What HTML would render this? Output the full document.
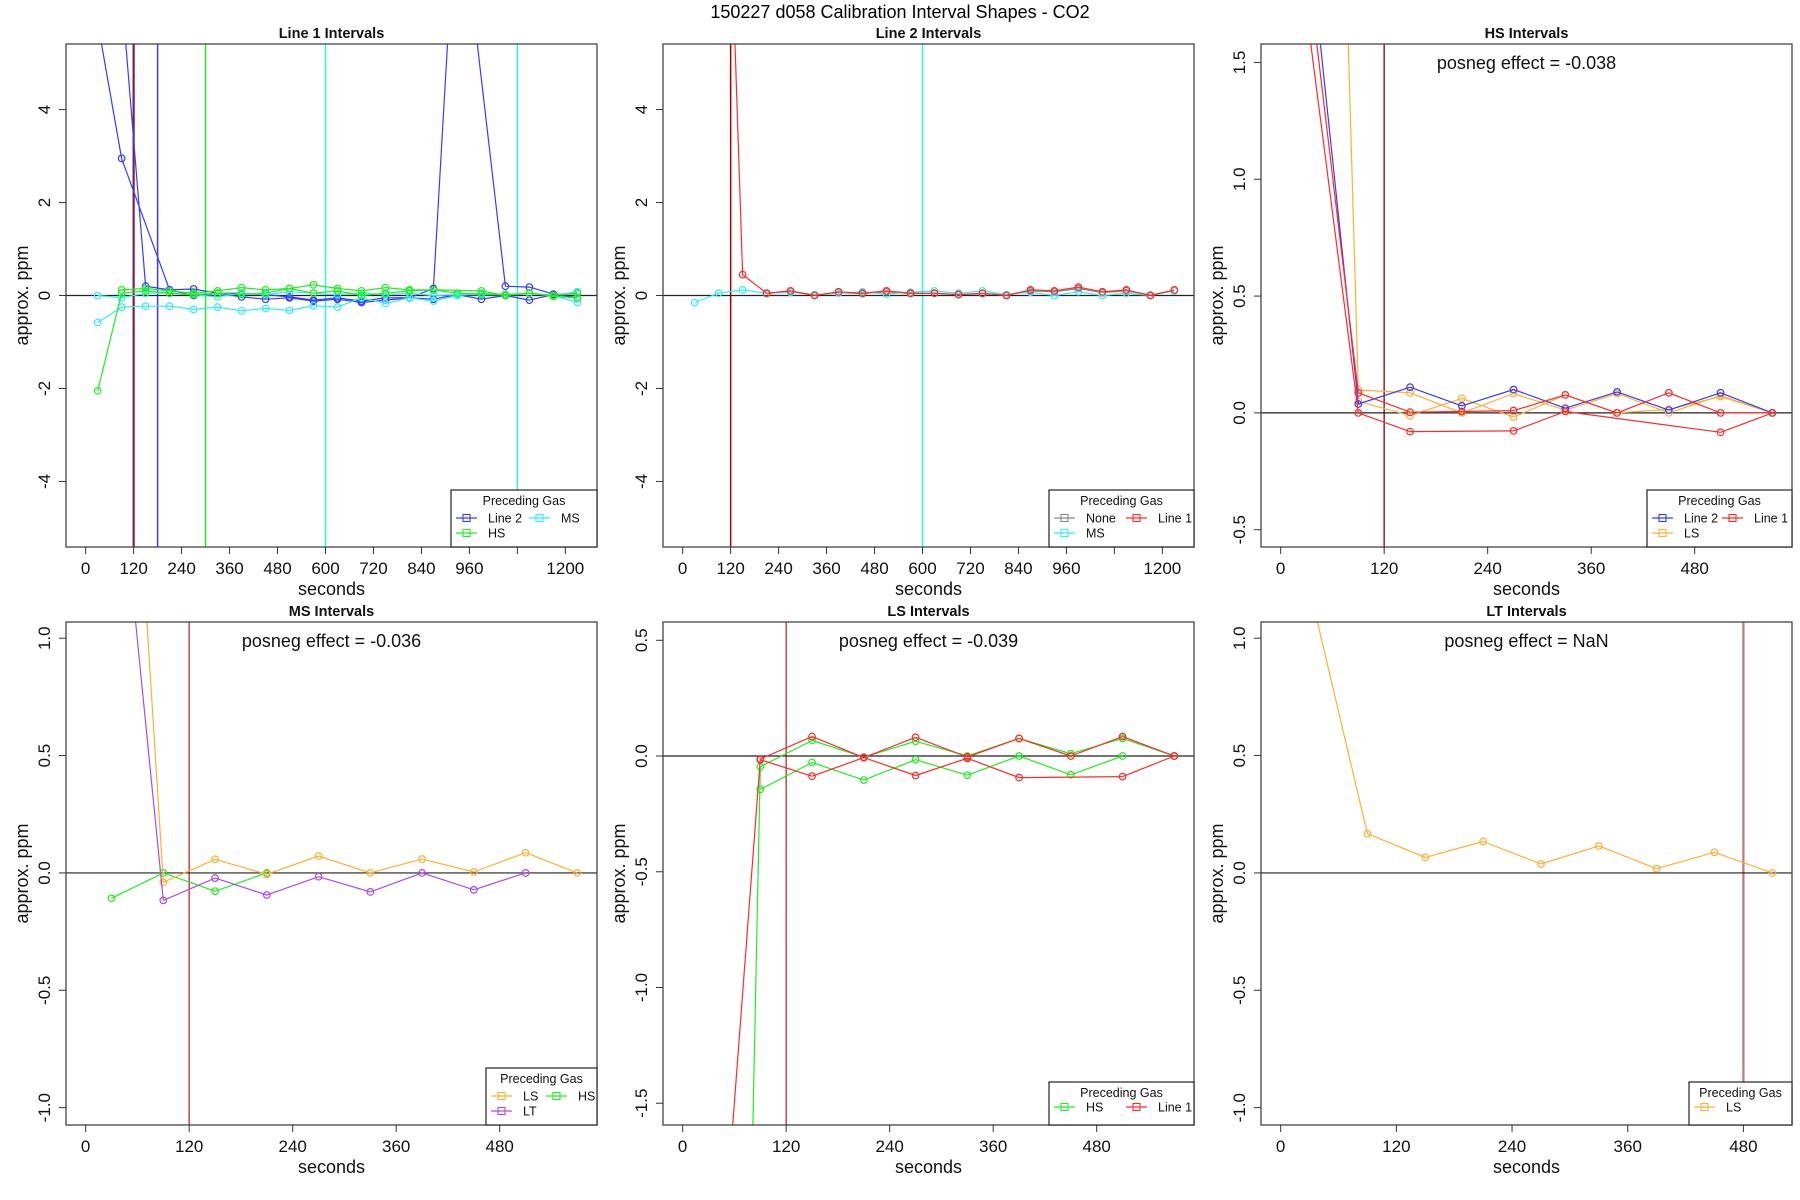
<!DOCTYPE html>
<html><head><meta charset="utf-8">
<style>
html,body{margin:0;padding:0;background:#fff;width:1800px;height:1200px;overflow:hidden;}
svg{display:block;font-family:"Liberation Sans",Arial,sans-serif;}
</style></head>
<body>
<svg id="chart" width="1800" height="1200" viewBox="0 0 1800 1200" xmlns="http://www.w3.org/2000/svg">
<rect x="0" y="0" width="1800" height="1200" fill="#fff"/>
<text x="900" y="18" font-size="18" text-anchor="middle">150227  d058   Calibration Interval Shapes - CO2</text>
</svg>
<script>
// ---------- data (seconds, ppm) ----------
const p1_line2a_x=[30,90,210,270,330,390,450,510,570,630,690,750,810,870,930,990,1050,1110,1170,1230];
const p1_line2a_y=[5.88,2.95,0.12,0.0,0.05,-0.03,-0.08,-0.05,-0.12,-0.08,-0.15,-0.1,-0.05,-0.08,0.02,-0.08,0.0,-0.1,0.02,0.05];
const p1_line2b_x=[90,150,210,270,330,390,450,510,570,630,690,750,810,870,930,1050,1110,1170,1230];
const p1_line2b_y=[6.5,0.2,0.12,0.14,0.05,0.05,0.02,-0.03,-0.1,-0.05,-0.12,-0.05,-0.05,0.15,9.1,0.2,0.18,0.03,-0.05];
const p1_hsa_x=[30,90,150,210,270,330,390,450,510,570,630,690,750,810,870,930,990,1050,1110,1170,1230];
const p1_hsa_y=[-2.05,0.05,0.1,0.05,0.02,0.05,0.02,0.05,0.15,0.05,0.1,0.0,0.05,0.1,0.12,0.05,0.03,0.02,0.05,-0.02,-0.05];
const p1_hsb_x=[90,150,210,270,330,390,450,510,570,630,690,750,810,870,990,1050,1110,1170,1230];
const p1_hsb_y=[0.12,0.15,0.1,0.05,0.1,0.17,0.12,0.15,0.23,0.15,0.1,0.17,0.12,0.12,0.1,0.0,0.05,0.0,0.05];
const p1_msa_x=[30,90,150,210,270,330,390,450,510,570,630,690,750,810,870,930,990,1050,1110,1170,1230];
const p1_msa_y=[-0.58,-0.25,-0.23,-0.23,-0.3,-0.25,-0.33,-0.28,-0.32,-0.22,-0.25,-0.05,-0.17,-0.05,-0.12,0.0,0.05,0.02,0.05,0.0,-0.15];
const p1_msb_x=[30,90,150,210,270,330,390,450,510,570,630,690,750,810,870,930,990,1050,1110,1170,1230];
const p1_msb_y=[0.0,-0.05,0.05,0.05,0.02,-0.03,0.05,0.02,0.08,0.05,0.02,0.05,0.02,0.05,0.0,0.02,0.02,0.02,0.05,0.0,0.08];
const p1_vlines=[120,180,300,600,1080];

const p2_line1_x=[90,150,210,270,330,390,450,510,570,630,690,750,810,870,930,990,1050,1110,1170,1230];
const p2_line1_y=[16.1,0.45,0.05,0.1,0.0,0.08,0.05,0.1,0.05,0.05,0.02,0.05,0.0,0.12,0.1,0.18,0.08,0.12,0.0,0.12];
const p2_ms_x=[30,90,150,210,270,330,390,450,510,570,630,690,750,810,870,930,990,1050,1110,1170,1230];
const p2_ms_y=[-0.15,0.05,0.12,0.05,0.07,0.02,0.05,0.08,0.03,0.07,0.1,0.05,0.1,0.02,0.07,0.0,0.08,0.0,0.05,0.0,0.1];
const p2_none_x=[210,270,330,390,450,510,570,630,690,750,810,870,930,990,1050,1110,1170,1230];
const p2_none_y=[0.04,0.08,0.01,0.06,0.04,0.08,0.04,0.05,0.02,0.04,0.01,0.1,0.08,0.15,0.06,0.1,0.01,0.1];
const p2_vlines=[120,600];

const p3_line2_x=[30,90,150,210,270,330,390,450,510,570];
const p3_line2_y=[2.14,0.038,0.11,0.03,0.1,0.02,0.09,0.012,0.086,0.0];
const p3_line1a_x=[30,90,150,210,270,330,390,450,510,570];
const p3_line1a_y=[1.95,0.086,0.003,0.006,0.01,0.077,0.0,0.086,0.0,0.0];
const p3_line1b_x=[30,90,150,270,330,510,570];
const p3_line1b_y=[1.72,0.0,-0.08,-0.077,0.006,-0.083,0.0];
const p3_lsa_x=[30,90,150,210,270,330,390,450,510,570];
const p3_lsa_y=[7.8,0.098,0.086,0.0,0.083,0.012,0.083,0.0,0.074,0.0];
const p3_lsb_x=[90,150,210,270,330,390,450,510,570];
const p3_lsb_y=[0.05,-0.012,0.062,-0.018,0.077,0.0,0.015,0.07,0.0];
const p3_vlines=[120];

const p4_hs_x=[30,90,150,210];
const p4_hs_y=[-0.108,0.0,-0.078,0.0];
const p4_ls_x=[30,90,150,210,270,330,390,450,510,570];
const p4_ls_y=[3.46,-0.04,0.058,-0.006,0.072,0.0,0.059,0.004,0.086,0.0];
const p4_lt_x=[30,90,150,210,270,330,390,450,510];
const p4_lt_y=[2.1,-0.117,-0.022,-0.094,-0.016,-0.081,0.0,-0.072,0.0];
const p4_vlines=[120];

const p5_line1a_x=[30,90,150,210,270,330,390,450,510,570];
const p5_line1a_y=[-2.98,-0.013,0.084,-0.007,0.081,-0.004,0.076,0.0,0.084,0.0];
const p5_line1b_x=[90,150,210,270,330,390,510,570];
const p5_line1b_y=[-0.016,-0.087,-0.007,-0.084,-0.01,-0.093,-0.089,0.0];
const p5_hsa_x=[30,90,150,210,270,330,390,450,510,570];
const p5_hsa_y=[-10.9,-0.046,0.067,-0.005,0.064,0.0,0.076,0.01,0.076,0.0];
const p5_hsb_x=[90,150,210,270,330,390,450,510];
const p5_hsb_y=[-0.144,-0.028,-0.104,-0.016,-0.083,0.0,-0.081,0.0];
const p5_vlines=[120];

const p6_ls_x=[30,90,150,210,270,330,390,450,510];
const p6_ls_y=[1.21,0.167,0.066,0.134,0.038,0.115,0.018,0.088,0.0];
const p6_vlines=[480];

// tick labels
const xTicksLong=[0,120,240,360,480,600,720,840,960,1080,1200];
const xLabelsLong=["0","120","240","360","480","600","720","840","960","","1200"];
const xTicksShort=[0,120,240,360,480];
const xLabelsShort=["0","120","240","360","480"];
const yTicks12=[-4,-2,0,2,4];
const yLabels12=["-4","-2","0","2","4"];
const yTicks3=[-0.5,0,0.5,1.0,1.5];
const yLabels3=["-0.5","0.0","0.5","1.0","1.5"];
const yTicks46=[-1.0,-0.5,0,0.5,1.0];
const yLabels46=["-1.0","-0.5","0.0","0.5","1.0"];
const yTicks5=[-1.5,-1.0,-0.5,0,0.5];
const yLabels5=["-1.5","-1.0","-0.5","0.0","0.5"];

const C={blue:"#3a3aff",green:"#22ee22",cyan:"#33eeee",red:"#ff2a2a",orange:"#ffb033",purple:"#a94cf0",grey:"#8a8a8a"};

const NS="http://www.w3.org/2000/svg";
const svg=document.getElementById('chart');
function mk(tag,attrs,parent){const e=document.createElementNS(NS,tag);for(const k in attrs)e.setAttribute(k,attrs[k]);(parent||svg).appendChild(e);return e;}

// clip a segment (in data space) to the y-range [ya,yb]
function clipSeg(xa,ya,xb,yb,lo,hi){
  let t0=0,t1=1;const dy=yb-ya;
  if(dy===0){if(ya<lo||ya>hi)return null;}
  else{
    let ta=(lo-ya)/dy,tb=(hi-ya)/dy;if(ta>tb){const t=ta;ta=tb;tb=t;}
    t0=Math.max(t0,ta);t1=Math.min(t1,tb);if(t0>t1)return null;
  }
  const dx=xb-xa;
  return [xa+dx*t0,ya+dy*t0,xa+dx*t1,ya+dy*t1];
}

let clipId=0;
function panel(cfg){
  const g=mk('g',{});
  
  
  const L=cfg.left,T=cfg.top,W=531,H=503;
  const X=s=>L+(s-cfg.x0)/(cfg.x1-cfg.x0)*W;
  const Y=v=>T+(cfg.y1-v)/(cfg.y1-cfg.y0)*H;
  const cid='clip'+(clipId++);
  const cp=mk('clipPath',{id:cid},g);mk('rect',{x:L,y:T,width:W,height:H},cp);
  const plot=mk('g',{'clip-path':'url(#'+cid+')'},g);
  
  
  cfg.vlines.forEach((v,i)=>{
    const ln=mk('line',{x1:X(v),x2:X(v),y1:T,y2:T+H,stroke:cfg.vcolors[i],'stroke-width':cfg.vwidths?cfg.vwidths[i]:1.3},plot);
    
    
  });
  const z=mk('line',{x1:L,x2:L+W,y1:Y(0),y2:Y(0),stroke:'#222','stroke-width':1.2},plot);
  
  
  cfg.series.forEach(sr=>{
    let d='';
    for(let i=0;i<sr.x.length-1;i++){
      const s=clipSeg(sr.x[i],sr.y[i],sr.x[i+1],sr.y[i+1],cfg.y0,cfg.y1);
      if(s)d+='M'+X(s[0]).toFixed(1)+','+Y(s[1]).toFixed(1)+'L'+X(s[2]).toFixed(1)+','+Y(s[3]).toFixed(1);
    }
    const pl=mk('path',{d:d,fill:'none',stroke:sr.c,'stroke-width':1.2},plot);
    
    
    sr.x.forEach((s,i)=>{
      if(sr.y[i]<cfg.y0||sr.y[i]>cfg.y1)return;
      const c=mk('circle',{cx:X(s),cy:Y(sr.y[i]),r:3.3,fill:'none',stroke:sr.c,'stroke-width':1.2},plot);
      
      
    });
  });
  const bx=mk('rect',{x:L,y:T,width:W,height:H,fill:'none',stroke:'#444','stroke-width':1.3},g);
  
  
  cfg.xt.forEach((t,i)=>{
    mk('line',{x1:X(t),x2:X(t),y1:T+H,y2:T+H+7,stroke:'#333','stroke-width':1},g);
    if(cfg.xl[i]!==''){const tx=mk('text',{x:X(t),y:T+H+27,'font-size':17,'text-anchor':'middle',fill:'#111'},g);tx.textContent=cfg.xl[i];
    
    }
  });
  const xt=mk('text',{x:L+W/2,y:T+H+48,'font-size':18,'text-anchor':'middle',fill:'#111'},g);xt.textContent='seconds';
  
  
  cfg.yt.forEach((t,i)=>{
    mk('line',{x1:L-7,x2:L,y1:Y(t),y2:Y(t),stroke:'#333','stroke-width':1},g);
    const tx=mk('text',{x:L-16,y:Y(t),'font-size':17,'text-anchor':'middle',fill:'#111',transform:'rotate(-90 '+(L-16)+' '+Y(t)+')'},g);tx.textContent=cfg.yl[i];
    
    
  });
  const yx=L-38,yy=T+H/2;
  const yt=mk('text',{x:yx,y:yy,'font-size':18,'text-anchor':'middle',fill:'#111',transform:'rotate(-90 '+yx+' '+yy+')'},g);yt.textContent='approx. ppm';
  
  
  const tt=mk('text',{x:L+W/2,y:T-6,'font-size':14.5,'font-weight':'bold','text-anchor':'middle',fill:'#111'},g);tt.textContent=cfg.title;
  
  
  if(cfg.posneg){const pt=mk('text',{x:L+W/2,y:T+25,'font-size':18,'text-anchor':'middle',fill:'#111'},g);pt.textContent=cfg.posneg;
    
    }
  const lg=cfg.legend;
  const lgG=mk('g',{},g);
  
  
  const lx=L+W-lg.w, ly=T+H-lg.h;
  mk('rect',{x:lx,y:ly,width:lg.w,height:lg.h,fill:'#fff',stroke:'#222','stroke-width':1.2},lgG);
  const lt=mk('text',{x:lx+lg.w/2,y:ly+15,'font-size':12.5,'text-anchor':'middle',fill:'#111'},lgG);lt.textContent='Preceding Gas';
  lg.items.forEach((it,i)=>{
    const col=i%2,row=Math.floor(i/2);
    const ex=lx+5+col*lg.colw, ey=ly+lg.h-(lg.rows-row)*15+ (lg.rows===1?-3:1);
    mk('line',{x1:ex,x2:ex+21,y1:ey,y2:ey,stroke:it.c,'stroke-width':1.2},lgG);
    mk('rect',{x:ex+7,y:ey-3.5,width:7,height:7,fill:'none',stroke:it.c,'stroke-width':1.1},lgG);
    const t=mk('text',{x:ex+32,y:ey+4.5,'font-size':12.5,fill:'#111'},lgG);t.textContent=it.n;
    
    
  });
}

const R1=44,R2=622,C1=66,C2=663,C3=1261;
panel({name:'line1-intervals-panel',title:'Line 1 Intervals',left:C1,top:R1,x0:-49.2,x1:1279.2,y0:-5.41,y1:5.41,
  xt:xTicksLong,xl:xLabelsLong,yt:yTicks12,yl:yLabels12,
  vlines:p1_vlines,vcolors:['#7a1f55',C.blue,C.green,C.cyan,C.cyan],vwidths:[2.2,1.5,1.5,1.5,1.5],
  series:[{n:'line2',x:p1_line2a_x,y:p1_line2a_y,c:C.blue},{n:'line2',x:p1_line2b_x,y:p1_line2b_y,c:C.blue},
    {n:'ms',x:p1_msa_x,y:p1_msa_y,c:C.cyan},{n:'ms',x:p1_msb_x,y:p1_msb_y,c:C.cyan},
    {n:'hs',x:p1_hsa_x,y:p1_hsa_y,c:C.green},{n:'hs',x:p1_hsb_x,y:p1_hsb_y,c:C.green}],
  legend:{w:146,h:57,rows:2,colw:73,items:[{n:'Line 2',c:C.blue},{n:'MS',c:C.cyan},{n:'HS',c:C.green}]}});
panel({name:'line2-intervals-panel',title:'Line 2 Intervals',left:C2,top:R1,x0:-49.2,x1:1279.2,y0:-5.41,y1:5.41,
  xt:xTicksLong,xl:xLabelsLong,yt:yTicks12,yl:yLabels12,
  vlines:p2_vlines,vcolors:['#a00000',C.cyan],vwidths:[1.5,1.5],
  series:[{n:'none',x:p2_none_x,y:p2_none_y,c:C.grey},{n:'ms',x:p2_ms_x,y:p2_ms_y,c:C.cyan},{n:'line1',x:p2_line1_x,y:p2_line1_y,c:C.red}],
  legend:{w:145,h:57,rows:2,colw:72,items:[{n:'None',c:C.grey},{n:'Line 1',c:C.red},{n:'MS',c:C.cyan}]}});
panel({name:'hs-intervals-panel',title:'HS Intervals',left:C3,top:R1,x0:-22.8,x1:592.8,y0:-0.574,y1:1.579,
  xt:xTicksShort,xl:xLabelsShort,yt:yTicks3,yl:yLabels3,posneg:'posneg effect = -0.038',
  vlines:p3_vlines,vcolors:['#8b2a2a'],vwidths:[1.5],
  series:[{n:'ls',x:p3_lsa_x,y:p3_lsa_y,c:C.orange},{n:'ls',x:p3_lsb_x,y:p3_lsb_y,c:C.orange},
    {n:'line2',x:p3_line2_x,y:p3_line2_y,c:C.blue},{n:'line1',x:p3_line1a_x,y:p3_line1a_y,c:C.red},{n:'line1',x:p3_line1b_x,y:p3_line1b_y,c:C.red}],
  legend:{w:145,h:57,rows:2,colw:70,items:[{n:'Line 2',c:C.blue},{n:'Line 1',c:C.red},{n:'LS',c:C.orange}]}});
panel({name:'ms-intervals-panel',title:'MS Intervals',left:C1,top:R2,x0:-22.8,x1:592.8,y0:-1.074,y1:1.069,
  xt:xTicksShort,xl:xLabelsShort,yt:yTicks46,yl:yLabels46,posneg:'posneg effect = -0.036',
  vlines:p4_vlines,vcolors:['#c04848'],vwidths:[1.5],
  series:[{n:'hs',x:p4_hs_x,y:p4_hs_y,c:C.green},{n:'ls',x:p4_ls_x,y:p4_ls_y,c:C.orange},{n:'lt',x:p4_lt_x,y:p4_lt_y,c:C.purple}],
  legend:{w:111,h:57,rows:2,colw:55,items:[{n:'LS',c:C.orange},{n:'HS',c:C.green},{n:'LT',c:C.purple}]}});
panel({name:'ls-intervals-panel',title:'LS Intervals',left:C2,top:R2,x0:-22.8,x1:592.8,y0:-1.594,y1:0.579,
  xt:xTicksShort,xl:xLabelsShort,yt:yTicks5,yl:yLabels5,posneg:'posneg effect = -0.039',
  vlines:p5_vlines,vcolors:['#c04848'],vwidths:[1.5],
  series:[{n:'hs',x:p5_hsa_x,y:p5_hsa_y,c:C.green},{n:'hs',x:p5_hsb_x,y:p5_hsb_y,c:C.green},
    {n:'line1',x:p5_line1a_x,y:p5_line1a_y,c:C.red},{n:'line1',x:p5_line1b_x,y:p5_line1b_y,c:C.red}],
  legend:{w:145,h:43,rows:1,colw:72,items:[{n:'HS',c:C.green},{n:'Line 1',c:C.red}]}});
panel({name:'lt-intervals-panel',title:'LT Intervals',left:C3,top:R2,x0:-20.4,x1:530.4,y0:-1.074,y1:1.069,
  xt:xTicksShort,xl:xLabelsShort,yt:yTicks46,yl:yLabels46,posneg:'posneg effect = NaN',
  vlines:p6_vlines,vcolors:['#c07878'],vwidths:[2.2],
  series:[{n:'ls',x:p6_ls_x,y:p6_ls_y,c:C.orange}],
  legend:{w:103,h:43,rows:1,colw:50,items:[{n:'LS',c:C.orange}]}});
</script>
</body></html>
